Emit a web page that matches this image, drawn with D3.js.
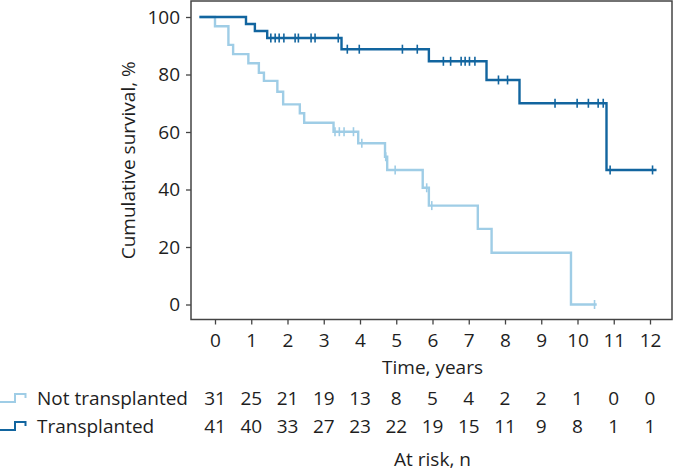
<!DOCTYPE html>
<html>
<head>
<meta charset="utf-8">
<script src="https://cdn.jsdelivr.net/npm/d3@7"></script>
<style>
  html, body { margin: 0; padding: 0; background: #fff; }
  svg { display: block; }
  text { font-family: "Open Sans", sans-serif; fill: #1e1e1e; }
</style>
</head>
<body>
<svg id="chart" width="674" height="472"></svg>
<script>
// ---------------- data ----------------
const timeTicks = [0, 1, 2, 3, 4, 5, 6, 7, 8, 9, 10, 11, 12];
const yTicks = [0, 20, 40, 60, 80, 100];
const seriesNames = ["Not transplanted", "Transplanted"];

const startTime = -0.43;

// Not transplanted: event times and survival (%) after each event
const notTxTimes  = [0.00, 0.37, 0.50, 0.92, 1.21, 1.35, 1.72, 1.88, 2.34, 2.46, 3.27, 3.95, 4.69, 4.75, 5.73, 5.90, 7.25, 7.63, 9.82];
const notTxSurv   = [96.8, 90.3, 87.1, 83.9, 80.6, 77.8, 74.0, 69.6, 66.5, 63.2, 60.1, 56.1, 51.4, 46.8, 40.6, 34.4, 26.3, 18.0, 0];
const notTxEnd = 10.53;
const notTxCensor = [3.31, 3.43, 3.56, 3.82, 4.05, 4.71, 4.97, 5.84, 5.98, 10.47];

// Transplanted
const txTimes = [0.855, 1.10, 1.44, 3.49, 5.90, 7.49, 8.40, 10.80];
const txSurv  = [97.56, 95.12, 92.68, 88.8, 84.6, 78.1, 70.0, 46.8];
const txEnd = 12.18;
const txCensor = [1.54, 1.66, 1.77, 1.90, 2.21, 2.30, 2.65, 2.76, 3.40, 3.65, 3.98, 5.17, 5.58,
                  6.30, 6.50, 6.79, 6.90, 7.02, 7.17, 7.82, 8.07, 9.38, 9.99, 10.30, 10.57, 10.71, 10.90, 12.07];

// Numbers at risk
const riskNotTx = [31, 25, 21, 19, 13, 8, 5, 4, 2, 2, 1, 0, 0];
const riskTx    = [41, 40, 33, 27, 23, 22, 19, 15, 11, 9, 8, 1, 1];

// ---------------- chart ----------------
const colors = ["#9fcde6", "#12659f"];
const FS = "19px";
const svg = d3.select("#chart");

const x = d3.scaleLinear().domain([0, 12]).range([215, 650]);
const y = d3.scaleLinear().domain([0, 100]).range([304.5, 17]);

const box = { left: 191, right: 672, top: 1, bottom: 319.5 };

// frame
svg.append("rect")
  .attr("x", box.left).attr("y", box.top)
  .attr("width", box.right - box.left).attr("height", box.bottom - box.top)
  .attr("fill", "none").attr("stroke", "#444").attr("stroke-width", 1.5);

// y axis
const yAxis = svg.append("g")
  .attr("transform", `translate(${box.left},0)`)
  .call(d3.axisLeft(y).tickValues(yTicks).tickSize(5).tickPadding(6));
yAxis.select(".domain").remove();
yAxis.selectAll("line").attr("stroke", "#444").attr("stroke-width", 1.3);
yAxis.selectAll("text").style("font-size", FS).attr("fill", "#1e1e1e")
  .style("font-family", '"Open Sans", sans-serif');

// x axis
const xAxis = svg.append("g")
  .attr("transform", `translate(0,${box.bottom})`)
  .call(d3.axisBottom(x).tickValues(timeTicks).tickSize(5).tickPadding(9));
xAxis.select(".domain").remove();
xAxis.selectAll("line").attr("stroke", "#444").attr("stroke-width", 1.3);
xAxis.selectAll("text").style("font-size", FS).attr("fill", "#1e1e1e")
  .style("font-family", '"Open Sans", sans-serif');

// axis titles
svg.append("text")
  .attr("transform", `translate(135,${(box.top + box.bottom) / 2}) rotate(-90)`)
  .attr("text-anchor", "middle")
  .style("font-size", FS)
  .text("Cumulative survival, %");

svg.append("text")
  .attr("x", x(6)).attr("y", 374)
  .attr("text-anchor", "middle")
  .style("font-size", FS)
  .text("Time, years");

// step curves
function stepPoints(times, surv, end) {
  const pts = [[startTime, 100]];
  let cur = 100;
  times.forEach((t, i) => { pts.push([t, cur]); cur = surv[i]; pts.push([t, cur]); });
  pts.push([end, cur]);
  return pts;
}
function survAt(times, surv, t) {
  let v = 100;
  times.forEach((tt, i) => { if (tt <= t) v = surv[i]; });
  return v;
}
const line = d3.line().x(d => x(d[0])).y(d => y(d[1]));

const series = [
  { times: notTxTimes, surv: notTxSurv, end: notTxEnd, censor: notTxCensor, color: colors[0] },
  { times: txTimes, surv: txSurv, end: txEnd, censor: txCensor, color: colors[1] }
];

series.forEach(s => {
  svg.append("path")
    .datum(stepPoints(s.times, s.surv, s.end))
    .attr("d", line)
    .attr("fill", "none")
    .attr("stroke", s.color)
    .attr("stroke-width", 2.4);
  svg.append("g").selectAll("line")
    .data(s.censor)
    .join("line")
    .attr("x1", d => x(d)).attr("x2", d => x(d))
    .attr("y1", d => y(survAt(s.times, s.surv, d)) - 4.5)
    .attr("y2", d => y(survAt(s.times, s.surv, d)) + 4.5)
    .attr("stroke", s.color)
    .attr("stroke-width", 1.6);
});

// risk table
const rows = [
  { name: seriesNames[0], vals: riskNotTx, color: colors[0], base: 405 },
  { name: seriesNames[1], vals: riskTx, color: colors[1], base: 433 }
];
rows.forEach(r => {
  const iy = r.base - 3;
  svg.append("path")
    .attr("d", `M0,${iy} H15 V${iy - 8} H25.5 V${iy - 4}`)
    .attr("fill", "none").attr("stroke", r.color).attr("stroke-width", 2);
  svg.append("text")
    .attr("x", 37).attr("y", r.base)
    .style("font-size", FS)
    .text(r.name);
  svg.append("g").selectAll("text")
    .data(r.vals)
    .join("text")
    .attr("x", (d, i) => x(timeTicks[i]))
    .attr("y", r.base)
    .attr("text-anchor", "middle")
    .style("font-size", FS)
    .text(d => d);
});

svg.append("text")
  .attr("x", x(6)).attr("y", 466)
  .attr("text-anchor", "middle")
  .style("font-size", FS)
  .text("At risk, n");
</script>
</body>
</html>
